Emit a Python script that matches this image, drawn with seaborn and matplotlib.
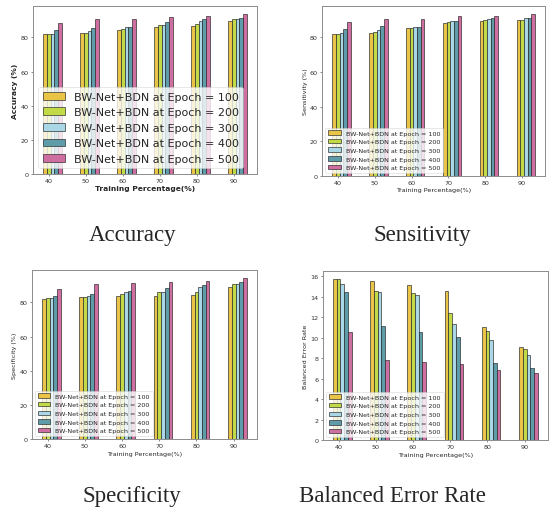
import numpy as np
import pandas as pd
import matplotlib
matplotlib.use("Agg")
import matplotlib.pyplot as plt
import seaborn as sns

# training percentages on the x axis
train_pct = ["40", "50", "60", "70", "80", "90"]
epochs = ["100", "200", "300", "400", "500"]

# one row per epoch (100..500), one value per training percentage
accuracy = [
    [81.9, 82.9, 84.5, 85.9, 87.0, 89.4],
    [82.1, 82.9, 85.1, 87.4, 88.0, 90.6],
    [82.3, 83.9, 85.9, 87.4, 89.8, 90.8],
    [84.5, 85.5, 86.4, 88.8, 90.6, 91.7],
    [88.4, 90.8, 91.0, 92.1, 92.7, 93.7],
]
sensitivity = [
    [81.9, 82.7, 85.4, 88.1, 89.4, 89.8],
    [82.1, 83.3, 85.6, 89.0, 90.2, 90.2],
    [82.3, 84.2, 85.7, 89.4, 90.4, 91.0],
    [84.8, 86.3, 86.1, 89.4, 91.0, 91.3],
    [88.6, 90.6, 90.6, 92.5, 92.5, 93.3],
]
specificity = [
    [82.0, 82.9, 83.9, 83.9, 84.5, 89.0],
    [82.5, 82.9, 84.9, 85.9, 85.9, 90.7],
    [82.7, 83.9, 85.9, 85.9, 88.8, 90.7],
    [83.7, 84.9, 86.6, 88.2, 90.1, 91.9],
    [87.8, 90.7, 91.1, 91.7, 92.7, 94.0],
]
ber = [
    [15.67, 15.47, 15.10, 14.53, 10.98, 9.12],
    [15.67, 14.53, 14.37, 12.35, 10.59, 8.93],
    [15.24, 14.46, 14.10, 11.30, 9.80, 8.30],
    [14.46, 11.10, 10.50, 10.03, 7.49, 7.00],
    [10.52, 7.85, 7.65, 7.40, 6.84, 6.58],
]

colors = ["#E9C447", "#C3DA48", "#A9D7E6", "#5E9CAA", "#CF6FA1"]
labels = [f"BW-Net+BDN at Epoch = {e}" for e in epochs]


def long_df(values):
    rows = []
    for lab, row in zip(labels, values):
        for pct, v in zip(train_pct, row):
            rows.append({"pct": pct, "value": v, "run": lab})
    return pd.DataFrame(rows)


def draw_panel(ax, values, ylabel, label_size, legend_size, bold=False):
    df = long_df(values)
    sns.barplot(data=df, x="pct", y="value", hue="run", palette=colors,
                width=0.5, saturation=1, errorbar=None,
                edgecolor="#222222", linewidth=0.45, ax=ax)
    ax.set_xticks(np.arange(len(train_pct)) - 0.1)
    ax.set_xticklabels(train_pct)
    ax.set_xlim(-0.525, len(train_pct) - 0.475)
    weight = "bold" if bold else "normal"
    ax.set_xlabel("Training Percentage(%)", fontsize=label_size,
                  fontweight=weight, labelpad=1.5)
    ax.set_ylabel(ylabel, fontsize=label_size, fontweight=weight, labelpad=1.5)
    ax.tick_params(labelsize=4.6, length=1.6, width=0.4, pad=1.5,
                   colors="#333333")
    for s in ax.spines.values():
        s.set_color("#8c8c8c")
        s.set_linewidth(0.7)
    ax.legend(loc="lower left", fontsize=legend_size, framealpha=0.8,
              edgecolor="#cccccc", borderaxespad=0.5)
    ax.get_legend().get_frame().set_linewidth(0.4)


sns.set_style("ticks")
plt.rcParams["font.family"] = ["DejaVu Sans"]

fig = plt.figure(figsize=(5.49, 5.10), dpi=100)
ax1 = fig.add_axes([0.060, 0.657, 0.408, 0.329])
ax2 = fig.add_axes([0.587, 0.653, 0.406, 0.333])
ax3 = fig.add_axes([0.058, 0.137, 0.410, 0.331])
ax4 = fig.add_axes([0.588, 0.135, 0.410, 0.331])

draw_panel(ax1, accuracy, "Accuracy (%)", 5.4, 8.0, bold=True)
draw_panel(ax2, sensitivity, "Sensitivity (%)", 4.6, 4.6)
draw_panel(ax3, specificity, "Specificity (%)", 4.6, 4.6)
draw_panel(ax4, ber, "Balanced Error Rate", 4.6, 4.6)

cap = dict(fontsize=16.5, family="Liberation Serif", ha="center", va="center")
fig.text(133 / 549, 1 - 236 / 510, "Accuracy", **cap)
fig.text(422 / 549, 1 - 236 / 510, "Sensitivity", **cap)
fig.text(132 / 549, 1 - 497 / 510, "Specificity", **cap)
fig.text(392 / 549, 1 - 497 / 510, "Balanced Error Rate", **cap)

fig.savefig("out.png", dpi=100)
plt.close(fig)
